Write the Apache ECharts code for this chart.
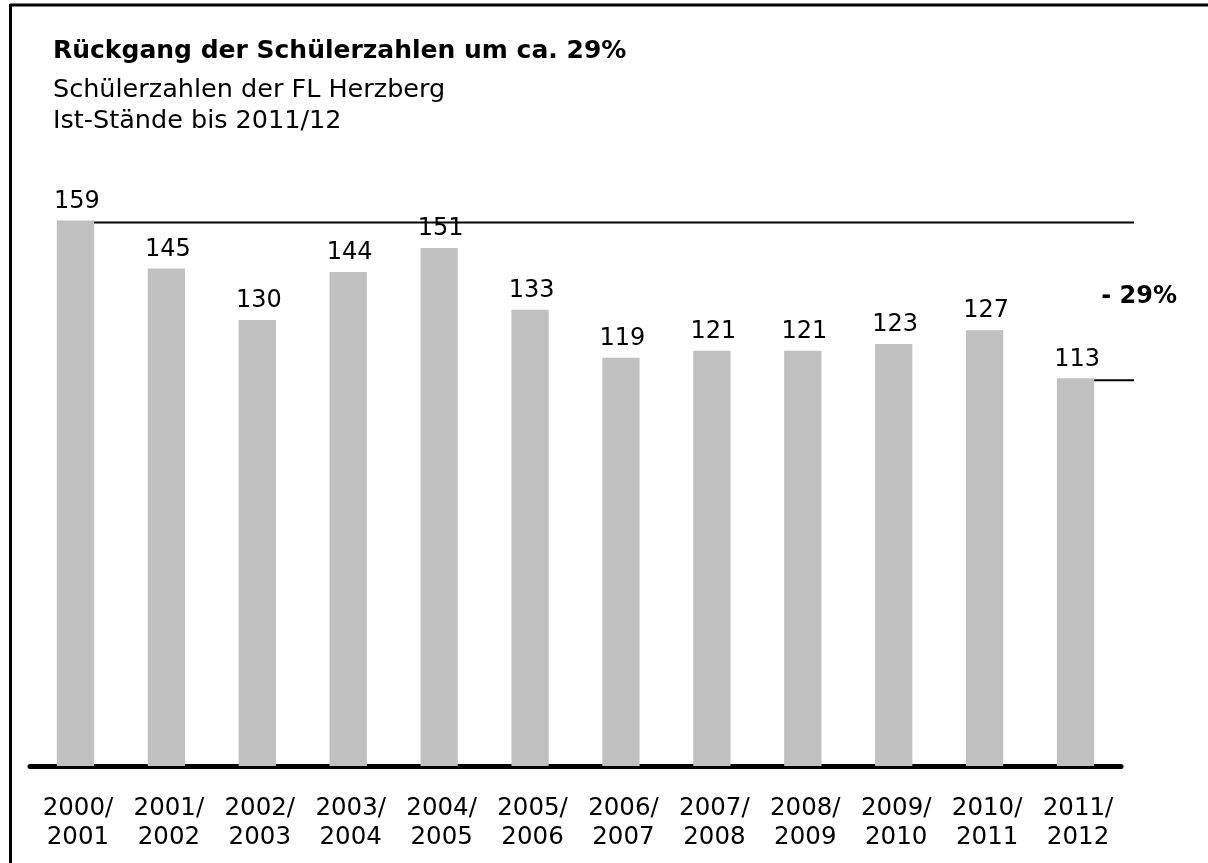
<!DOCTYPE html>
<html>
<head>
<meta charset="utf-8">
<title>Schülerzahlen der FL Herzberg</title>
<script src="https://cdn.jsdelivr.net/npm/echarts@6/dist/echarts.min.js"></script>
<style>
  html, body { margin: 0; padding: 0; background: #fff; }
  #chart { width: 1208px; height: 863px; }
</style>
</head>
<body>
<div id="chart"></div>
<script>
// School years shown on the category axis
const schoolYears = [
  '2000/\n2001', '2001/\n2002', '2002/\n2003', '2003/\n2004',
  '2004/\n2005', '2005/\n2006', '2006/\n2007', '2007/\n2008',
  '2008/\n2009', '2009/\n2010', '2010/\n2011', '2011/\n2012'
];

// Pupil counts per school year (actual figures up to 2011/12)
const pupilCounts = [159, 145, 130, 144, 151, 133, 119, 121, 121, 123, 127, 113];

const titleText = 'Rückgang der Schülerzahlen um ca. 29%';
const subtitleLines = ['Schülerzahlen der FL Herzberg', 'Ist-Stände bis 2011/12'];

// Reference pair for the decline bracket: first year vs. last year
const firstIdx = 0;
const lastIdx = pupilCounts.length - 1;
const declinePct = (pupilCounts[lastIdx] - pupilCounts[firstIdx]) / pupilCounts[firstIdx] * 100;
const declineLabel = '- ' + Math.round(Math.abs(declinePct)) + '%';

const FONT = '"DejaVu Sans", Verdana, sans-serif';
const BAR_RATIO = 0.41;

const chart = echarts.init(document.getElementById('chart'), null, { renderer: 'canvas' });

chart.setOption({
  backgroundColor: '#ffffff',
  animation: false,
  title: {
    text: titleText,
    subtext: subtitleLines.join('\n'),
    left: 48,
    top: 34,
    itemGap: 11,
    textStyle: { fontFamily: FONT, fontSize: 25, fontWeight: 'bold', color: '#000', lineHeight: 25 },
    subtextStyle: { fontFamily: FONT, fontSize: 25.5, color: '#000', lineHeight: 31 }
  },
  graphic: [
    { type: 'line', shape: { x1: 10, y1: 5, x2: 1208, y2: 5 }, style: { stroke: '#000', lineWidth: 3 } },
    { type: 'line', shape: { x1: 10.5, y1: 4, x2: 10.5, y2: 863 }, style: { stroke: '#000', lineWidth: 3 } }
  ],
  grid: { left: 30, right: 87, top: 217, bottom: 97, containLabel: false },
  xAxis: {
    type: 'category',
    data: schoolYears,
    axisTick: { show: false },
    axisLine: { show: true, lineStyle: { color: '#000', width: 5, cap: 'round' } },
    axisLabel: {
      margin: 28,
      fontFamily: FONT,
      fontSize: 24.5,
      lineHeight: 29,
      color: '#000',
      padding: [0, 0, 0, 5],
      interval: 0
    }
  },
  yAxis: {
    type: 'value',
    min: 0,
    max: 160,
    show: false,
    splitLine: { show: false }
  },
  series: [
    {
      type: 'bar',
      data: pupilCounts,
      barWidth: (BAR_RATIO * 100) + '%',
      itemStyle: { color: '#c0c0c0' },
      label: {
        show: true,
        position: 'top',
        distance: 7,
        fontFamily: FONT,
        fontSize: 24,
        color: '#000',
        padding: [0, 0, 0, 3]
      },
      z: 1
    },
    {
      // Bracket lines at the first and last value, plus the decline label
      type: 'custom',
      data: [[firstIdx, pupilCounts[firstIdx], lastIdx, pupilCounts[lastIdx]]],
      z: 3,
      renderItem: function (params, api) {
        const cs = params.coordSys;
        const endX = cs.x + cs.width + 13;
        const halfBar = api.size([1, 0])[0] * BAR_RATIO / 2;
        const p0 = api.coord([api.value(0), api.value(1)]);
        const p1 = api.coord([api.value(2), api.value(3)]);
        const midY = (p0[1] + p1[1]) / 2;
        return {
          type: 'group',
          children: [
            {
              type: 'line',
              shape: { x1: p0[0] + halfBar, y1: p0[1] + 2, x2: endX, y2: p0[1] + 2 },
              style: { stroke: '#000', lineWidth: 2 }
            },
            {
              type: 'line',
              shape: { x1: p1[0] + halfBar, y1: p1[1] + 2, x2: endX, y2: p1[1] + 2 },
              style: { stroke: '#000', lineWidth: 2 }
            },
            {
              type: 'text',
              x: p1[0] + halfBar + 7,
              y: midY - 3,
              style: {
                text: declineLabel,
                fontFamily: FONT,
                fontSize: 24,
                fontWeight: 'bold',
                fill: '#000',
                verticalAlign: 'middle',
                align: 'left'
              }
            }
          ]
        };
      }
    }
  ]
});
</script>
</body>
</html>
